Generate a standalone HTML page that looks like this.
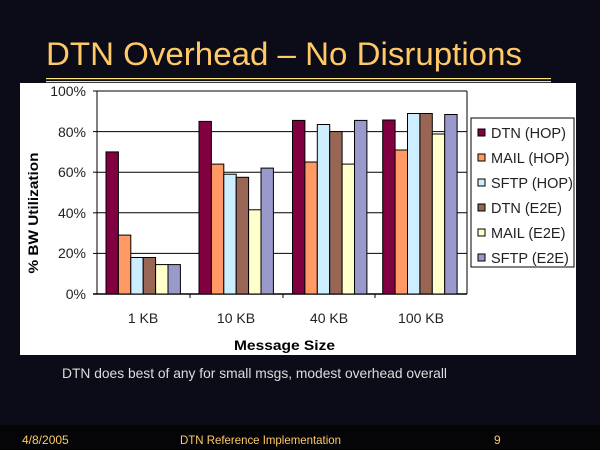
<!DOCTYPE html>
<html><head><style>
html,body{margin:0;padding:0;width:600px;height:450px;overflow:hidden;background:#0c0c18;}
svg{display:block}
</style></head><body>
<svg width="600" height="450" xmlns="http://www.w3.org/2000/svg" font-family="Liberation Sans, sans-serif">
<rect x="0" y="0" width="600" height="425" fill="#0c0c18"/>
<rect x="0" y="425" width="600" height="25" fill="#050508"/>
<text x="46" y="65" font-size="32" fill="#ffc966" textLength="476" lengthAdjust="spacingAndGlyphs">DTN Overhead – No Disruptions</text>
<rect x="46" y="78" width="505" height="1.2" fill="#ffe680"/>
<rect x="46" y="81" width="505" height="1.2" fill="#ffe680"/>
<rect x="20" y="83" width="556" height="272" fill="#fff"/>
<g stroke="#000" stroke-width="1">
<line x1="97" y1="91" x2="467" y2="91"/>
<line x1="97" y1="131.6" x2="467" y2="131.6"/>
<line x1="97" y1="172.2" x2="467" y2="172.2"/>
<line x1="97" y1="212.8" x2="467" y2="212.8"/>
<line x1="97" y1="253.4" x2="467" y2="253.4"/>
<line x1="467" y1="91" x2="467" y2="294"/>
<line x1="97" y1="91" x2="97" y2="294"/>
<line x1="93" y1="294" x2="467" y2="294" stroke-width="1.5"/>
<line x1="93" y1="91" x2="97" y2="91"/><line x1="93" y1="131.6" x2="97" y2="131.6"/><line x1="93" y1="172.2" x2="97" y2="172.2"/><line x1="93" y1="212.8" x2="97" y2="212.8"/><line x1="93" y1="253.4" x2="97" y2="253.4"/>
<line x1="190" y1="294" x2="190" y2="298"/><line x1="283" y1="294" x2="283" y2="298"/><line x1="375" y1="294" x2="375" y2="298"/>
</g>
<g font-size="14" fill="#222" text-anchor="end">
<text x="86" y="96">100%</text><text x="86" y="137">80%</text><text x="86" y="177">60%</text><text x="86" y="218">40%</text><text x="86" y="258">20%</text><text x="86" y="299">0%</text>
</g>
<g font-size="14" fill="#222" text-anchor="middle">
<text x="143" y="323">1 KB</text><text x="236" y="323">10 KB</text><text x="329" y="323">40 KB</text><text x="421" y="323">100 KB</text>
</g>
<text x="234" y="350" font-size="14" font-weight="bold" fill="#000" textLength="101" lengthAdjust="spacingAndGlyphs">Message  Size</text>
<text transform="translate(38,213) rotate(-90)" font-size="14" font-weight="bold" text-anchor="middle" fill="#000" textLength="121" lengthAdjust="spacingAndGlyphs">% BW Utilization</text>
<g stroke="#000" stroke-width="1">
<rect x="106" y="151.9" width="12.4" height="142.1" fill="#800040"/>
<rect x="118.4" y="235.1" width="12.4" height="58.9" fill="#ff9966"/>
<rect x="130.8" y="257.5" width="12.4" height="36.5" fill="#cceeff"/>
<rect x="143.2" y="257.5" width="12.4" height="36.5" fill="#996655"/>
<rect x="155.6" y="264.6" width="12.4" height="29.4" fill="#ffffcc"/>
<rect x="168" y="264.6" width="12.4" height="29.4" fill="#9999cc"/>
<rect x="199" y="121.4" width="12.4" height="172.6" fill="#800040"/>
<rect x="211.4" y="164.1" width="12.4" height="129.9" fill="#ff9966"/>
<rect x="223.8" y="174.2" width="12.4" height="119.8" fill="#cceeff"/>
<rect x="236.2" y="177.3" width="12.4" height="116.7" fill="#996655"/>
<rect x="248.6" y="209.8" width="12.4" height="84.2" fill="#ffffcc"/>
<rect x="261" y="168.1" width="12.4" height="125.9" fill="#9999cc"/>
<rect x="292.5" y="120.4" width="12.4" height="173.6" fill="#800040"/>
<rect x="304.9" y="162" width="12.4" height="132" fill="#ff9966"/>
<rect x="317.3" y="124.5" width="12.4" height="169.5" fill="#cceeff"/>
<rect x="329.7" y="131.6" width="12.4" height="162.4" fill="#996655"/>
<rect x="342.1" y="164.1" width="12.4" height="129.9" fill="#ffffcc"/>
<rect x="354.5" y="120.4" width="12.4" height="173.6" fill="#9999cc"/>
<rect x="382.7" y="120" width="12.4" height="174" fill="#800040"/>
<rect x="395.1" y="150" width="12.4" height="144" fill="#ff9966"/>
<rect x="407.5" y="113.5" width="12.4" height="180.5" fill="#cceeff"/>
<rect x="419.9" y="113.5" width="12.4" height="180.5" fill="#996655"/>
<rect x="432.3" y="134" width="12.4" height="160" fill="#ffffcc"/>
<rect x="444.7" y="114.5" width="12.4" height="179.5" fill="#9999cc"/>
</g>
<rect x="471" y="118" width="103" height="149" fill="#fff" stroke="#000" stroke-width="1"/>
<g stroke="#000" stroke-width="1">
<rect x="478" y="129" width="7" height="7" fill="#800040"/>
<rect x="478" y="154" width="7" height="7" fill="#ff9966"/>
<rect x="478" y="179" width="7" height="7" fill="#cceeff"/>
<rect x="478" y="204" width="7" height="7" fill="#996655"/>
<rect x="478" y="229" width="7" height="7" fill="#ffffcc"/>
<rect x="478" y="254" width="7" height="7" fill="#9999cc"/>
</g>
<g font-size="14.5" fill="#222">
<text x="491" y="138">DTN (HOP)</text>
<text x="491" y="163">MAIL (HOP)</text>
<text x="491" y="188">SFTP (HOP)</text>
<text x="491" y="213">DTN (E2E)</text>
<text x="491" y="238">MAIL (E2E)</text>
<text x="491" y="263">SFTP (E2E)</text>
</g>
<text x="62" y="378" font-size="14" fill="#dddddd" textLength="385" lengthAdjust="spacingAndGlyphs">DTN does best of any for small msgs, modest overhead overall</text>
<g font-size="12" fill="#ffc966">
<text x="22" y="444">4/8/2005</text>
<text x="180" y="444" textLength="161" lengthAdjust="spacingAndGlyphs">DTN Reference Implementation</text>
<text x="494" y="444">9</text>
</g>
</svg>
</body></html>
